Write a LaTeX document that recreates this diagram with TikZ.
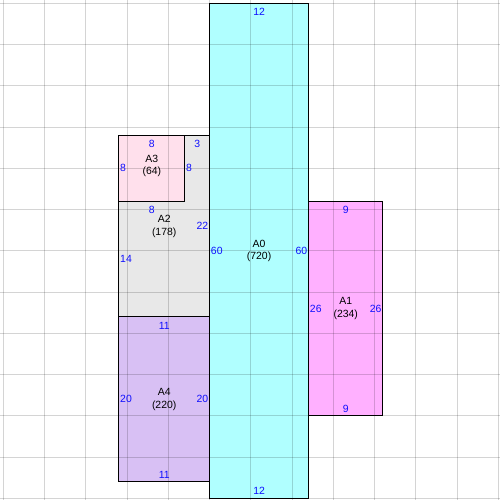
\documentclass[tikz,border=0pt]{standalone}
\usepackage{fontspec}
\setmainfont{Liberation Sans}
\usepackage{xcolor}
\usepackage{tikz}
\usetikzlibrary{positioning,calc}

\definecolor{roomcyan}{HTML}{B0FFFF}
\definecolor{roommagenta}{HTML}{FFB0FF}
\definecolor{roomgray}{HTML}{E8E8E8}
\definecolor{roompurple}{HTML}{D8C0F4}
\definecolor{roompink}{HTML}{FFE0EC}
\definecolor{sideblue}{HTML}{1010FF}

\begin{document}
\begin{tikzpicture}[
    x=0.25cm, y=-0.25cm,
    wall/.style={draw=black, line width=0.8pt},
    gridline/.style={draw=black, draw opacity=0.17, line width=0.7pt},
    side/.style={text=sideblue, inner sep=1pt, font=\fontsize{9pt}{10pt}\selectfont},
    tag/.style={align=center, inner sep=0pt, font=\fontsize{9pt}{11pt}\selectfont}
]
    \useasboundingbox (-0.4,-0.4) rectangle (60.2,60.2);

    % room fills
    \fill[roomcyan] (25,0) rectangle (37,60);
    \fill[roommagenta] (37,24) rectangle (46,50);
    \fill[roomgray] (14,16) rectangle (25,38);
    \fill[roompink] (14,16) rectangle (22,24);
    \fill[roompurple] (14,38) rectangle (25,58);

    % grid every 5 units
    \foreach \k in {0,5,...,60} {
        \draw[gridline] (\k,-0.4) -- (\k,60.2);
        \draw[gridline] (-0.4,\k) -- (60.2,\k);
    }

    % walls
    \draw[wall] (25,0) rectangle (37,60);
    \draw[wall] (37,24) rectangle (46,50);
    \draw[wall] (14,24) -- (14,16) -- (25,16) -- (25,38) -- (14,38) -- cycle;
    \draw[wall] (14,16) rectangle (22,24);
    \draw[wall] (14,38) rectangle (25,58);

    % room names
    \node[tag] (A0) at (31,30) {A0\\(720)};
    \node[tag] (A1) at (41.5,37) {A1\\(234)};
    \node[tag] (A2) at (19.5,27) {A2\\(178)};
    \node[tag] (A3) at (18,19.7) {A3\\(64)};
    \node[tag] (A4) at (19.5,48) {A4\\(220)};

    % top and bottom side lengths
    \foreach \n/\x/\y/\t in {a0t/31/1.05/12, a0b/31/59.1/12, a1t/41.5/25.05/9, a1b/41.5/49.1/9,
        a2t/23.5/17.05/3, a2m/18/25.05/8, a3t/18/17.05/8, a4t/19.5/39.05/11, a4b/19.5/57.1/11}
        \node[side] (\n) at (\x,\y) {\t};

    % left side lengths
    \foreach \n/\x/\y/\t in {a0l/25/30/60, a1l/37/37/26, a2l/14/31/14, a2i/22/20/8, a3l/14/20/8, a4l/14/48/20}
        \node[side, anchor=west] (\n) at (\x,\y) {\t};

    % right side lengths
    \foreach \n/\x/\y/\t in {a0r/37/30/60, a1r/46/37/26, a2r/25/27/22, a4r/25/48/20}
        \node[side, anchor=east] (\n) at (\x,\y) {\t};
\end{tikzpicture}
\end{document}
